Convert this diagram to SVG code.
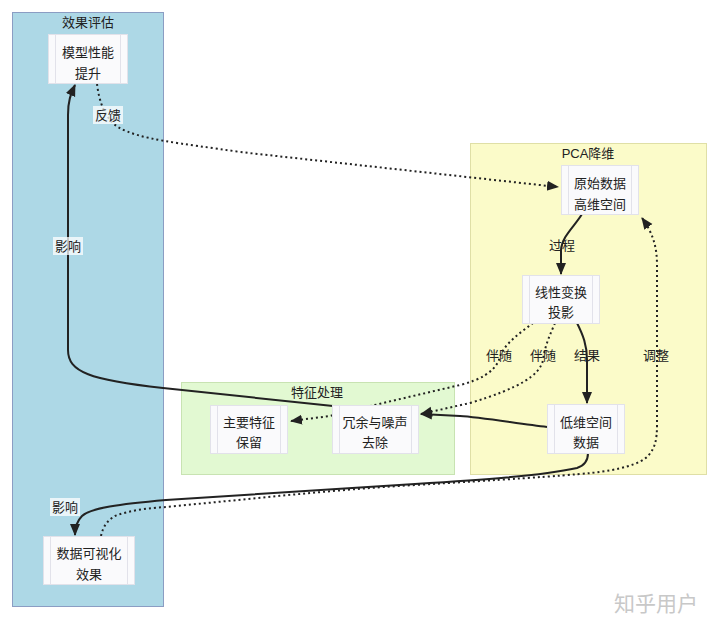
<svg xmlns="http://www.w3.org/2000/svg" width="720" height="627" viewBox="0 0 720 627">
<style>
text{font-family:"Liberation Sans","Noto Sans CJK SC",sans-serif;font-size:13px;fill:#222;text-anchor:middle}
.node rect.b{fill:#fafafc;stroke:#e2e2ea;stroke-width:1}
.node line{stroke:#e2e2ea;stroke-width:1}
.e{fill:none;stroke:#222;stroke-width:2}
.d{fill:none;stroke:#222;stroke-width:2;stroke-dasharray:2 3}
.lbg{fill:#fff;opacity:0.75}
</style>
<defs>
<marker id="a" viewBox="0 0 12 12" refX="11" refY="6" markerWidth="12" markerHeight="12" markerUnits="userSpaceOnUse" orient="auto">
<path d="M0,1 L12,6 L0,11 z" fill="#222"/>
</marker>
</defs>
<rect width="720" height="627" fill="#fff"/>
<g id="clusters">
<g id="c-eval"><rect x="12.5" y="12.5" width="151" height="594" fill="#add8e6" stroke="#8b9dc3"/><text x="88" y="27">效果评估</text></g>
<g id="c-pca"><rect x="470.5" y="143.5" width="236" height="331" fill="#fbfbc9" stroke="#dfdfa6"/><text x="588" y="158">PCA降维</text></g>
<g id="c-feat"><rect x="181.5" y="382.5" width="273" height="92" fill="#e2f9d2" stroke="#c8e3b2"/><text x="317" y="397">特征处理</text></g>
</g>
<g id="connectors">
<path class="d" d="M97,84 C99,100 104,118 118,127 C140,140 180,143 240,152 L558,187" marker-end="url(#a)"/>
<path class="e" d="M582,214 C575,226 562,236 561,250 L561,274" marker-end="url(#a)"/>
<path class="e" d="M577,323 C583,335 587,345 587,360 L587,403" marker-end="url(#a)"/>
<path class="d" d="M533,323 C520,333 502,345 499,360 C494,372 480,380 460,385 L383,403 L330,416 L291,421" marker-end="url(#a)"/>
<path class="d" d="M555,323 C550,335 545,345 543,360 C540,375 520,388 470,403 L421,414" marker-end="url(#a)"/>
<path class="e" d="M547,427 C520,424 480,417 460,416 L421,414" marker-end="url(#a)"/>
<path class="e" d="M333,406 L163,388 C90,380 68,372 68,350 L68,115 C68,100 71,94 75,85" marker-end="url(#a)"/>
<path class="e" d="M588,453 C588,462 583,466 577,468 C540,476 480,480 415,484 C300,491 220,496 166,500 C120,504 90,508 82,516 C78,520 75,526 75,535" marker-end="url(#a)"/>
<path class="d" d="M101,536 C103,526 108,520 115,516 C130,510 150,508 166,507 C250,499 330,490 415,485 C500,480 560,476 591,473 C620,470 640,464 648,456 C655,448 657,440 657,425 L657,265 C657,245 652,232 642,218" marker-end="url(#a)"/>
</g>
<g id="edge-labels">
<rect class="lbg" x="93" y="106" width="30" height="18"/><text x="108" y="120">反馈</text>
<text x="562" y="250">过程</text>
<text x="587" y="360">结果</text>
<text x="499" y="360">伴随</text>
<text x="543" y="360">伴随</text>
<text x="656" y="360">调整</text>
<rect class="lbg" x="53" y="237" width="30" height="18"/><text x="68" y="251">影响</text>
<rect class="lbg" x="50" y="498" width="30" height="18"/><text x="65" y="512">影响</text>
</g>
<g id="n-model" class="node"><rect class="b" x="48.5" y="34.5" width="79" height="49"/><line x1="55.5" y1="34.5" x2="55.5" y2="83.5"/><line x1="120.5" y1="34.5" x2="120.5" y2="83.5"/><text x="88" y="57">模型性能</text><text x="88" y="78">提升</text></g>
<g id="n-vis" class="node"><rect class="b" x="43.5" y="536.5" width="91" height="48"/><line x1="50.5" y1="536.5" x2="50.5" y2="584.5"/><line x1="127.5" y1="536.5" x2="127.5" y2="584.5"/><text x="89" y="558">数据可视化</text><text x="89" y="579">效果</text></g>
<g id="n-raw" class="node"><rect class="b" x="561.5" y="165.5" width="77" height="49"/><line x1="568.5" y1="165.5" x2="568.5" y2="214.5"/><line x1="631.5" y1="165.5" x2="631.5" y2="214.5"/><text x="600" y="188">原始数据</text><text x="600" y="209">高维空间</text></g>
<g id="n-lin" class="node"><rect class="b" x="522.5" y="275.5" width="77" height="48"/><line x1="529.5" y1="275.5" x2="529.5" y2="323.5"/><line x1="592.5" y1="275.5" x2="592.5" y2="323.5"/><text x="561" y="297">线性变换</text><text x="561" y="317">投影</text></g>
<g id="n-low" class="node"><rect class="b" x="547.5" y="404.5" width="77" height="49"/><line x1="554.5" y1="404.5" x2="554.5" y2="453.5"/><line x1="617.5" y1="404.5" x2="617.5" y2="453.5"/><text x="586" y="427">低维空间</text><text x="586" y="447">数据</text></g>
<g id="n-main" class="node"><rect class="b" x="210.5" y="405.5" width="77" height="48"/><line x1="217.5" y1="405.5" x2="217.5" y2="453.5"/><line x1="280.5" y1="405.5" x2="280.5" y2="453.5"/><text x="249" y="427">主要特征</text><text x="249" y="447">保留</text></g>
<g id="n-noise" class="node"><rect class="b" x="332.5" y="405.5" width="86" height="48"/><line x1="339.5" y1="405.5" x2="339.5" y2="453.5"/><line x1="411.5" y1="405.5" x2="411.5" y2="453.5"/><text x="375" y="427">冗余与噪声</text><text x="375" y="447">去除</text></g>
<text x="656" y="611" style="font-size:21px;fill:#c8c8c8">知乎用户</text>
</svg>
